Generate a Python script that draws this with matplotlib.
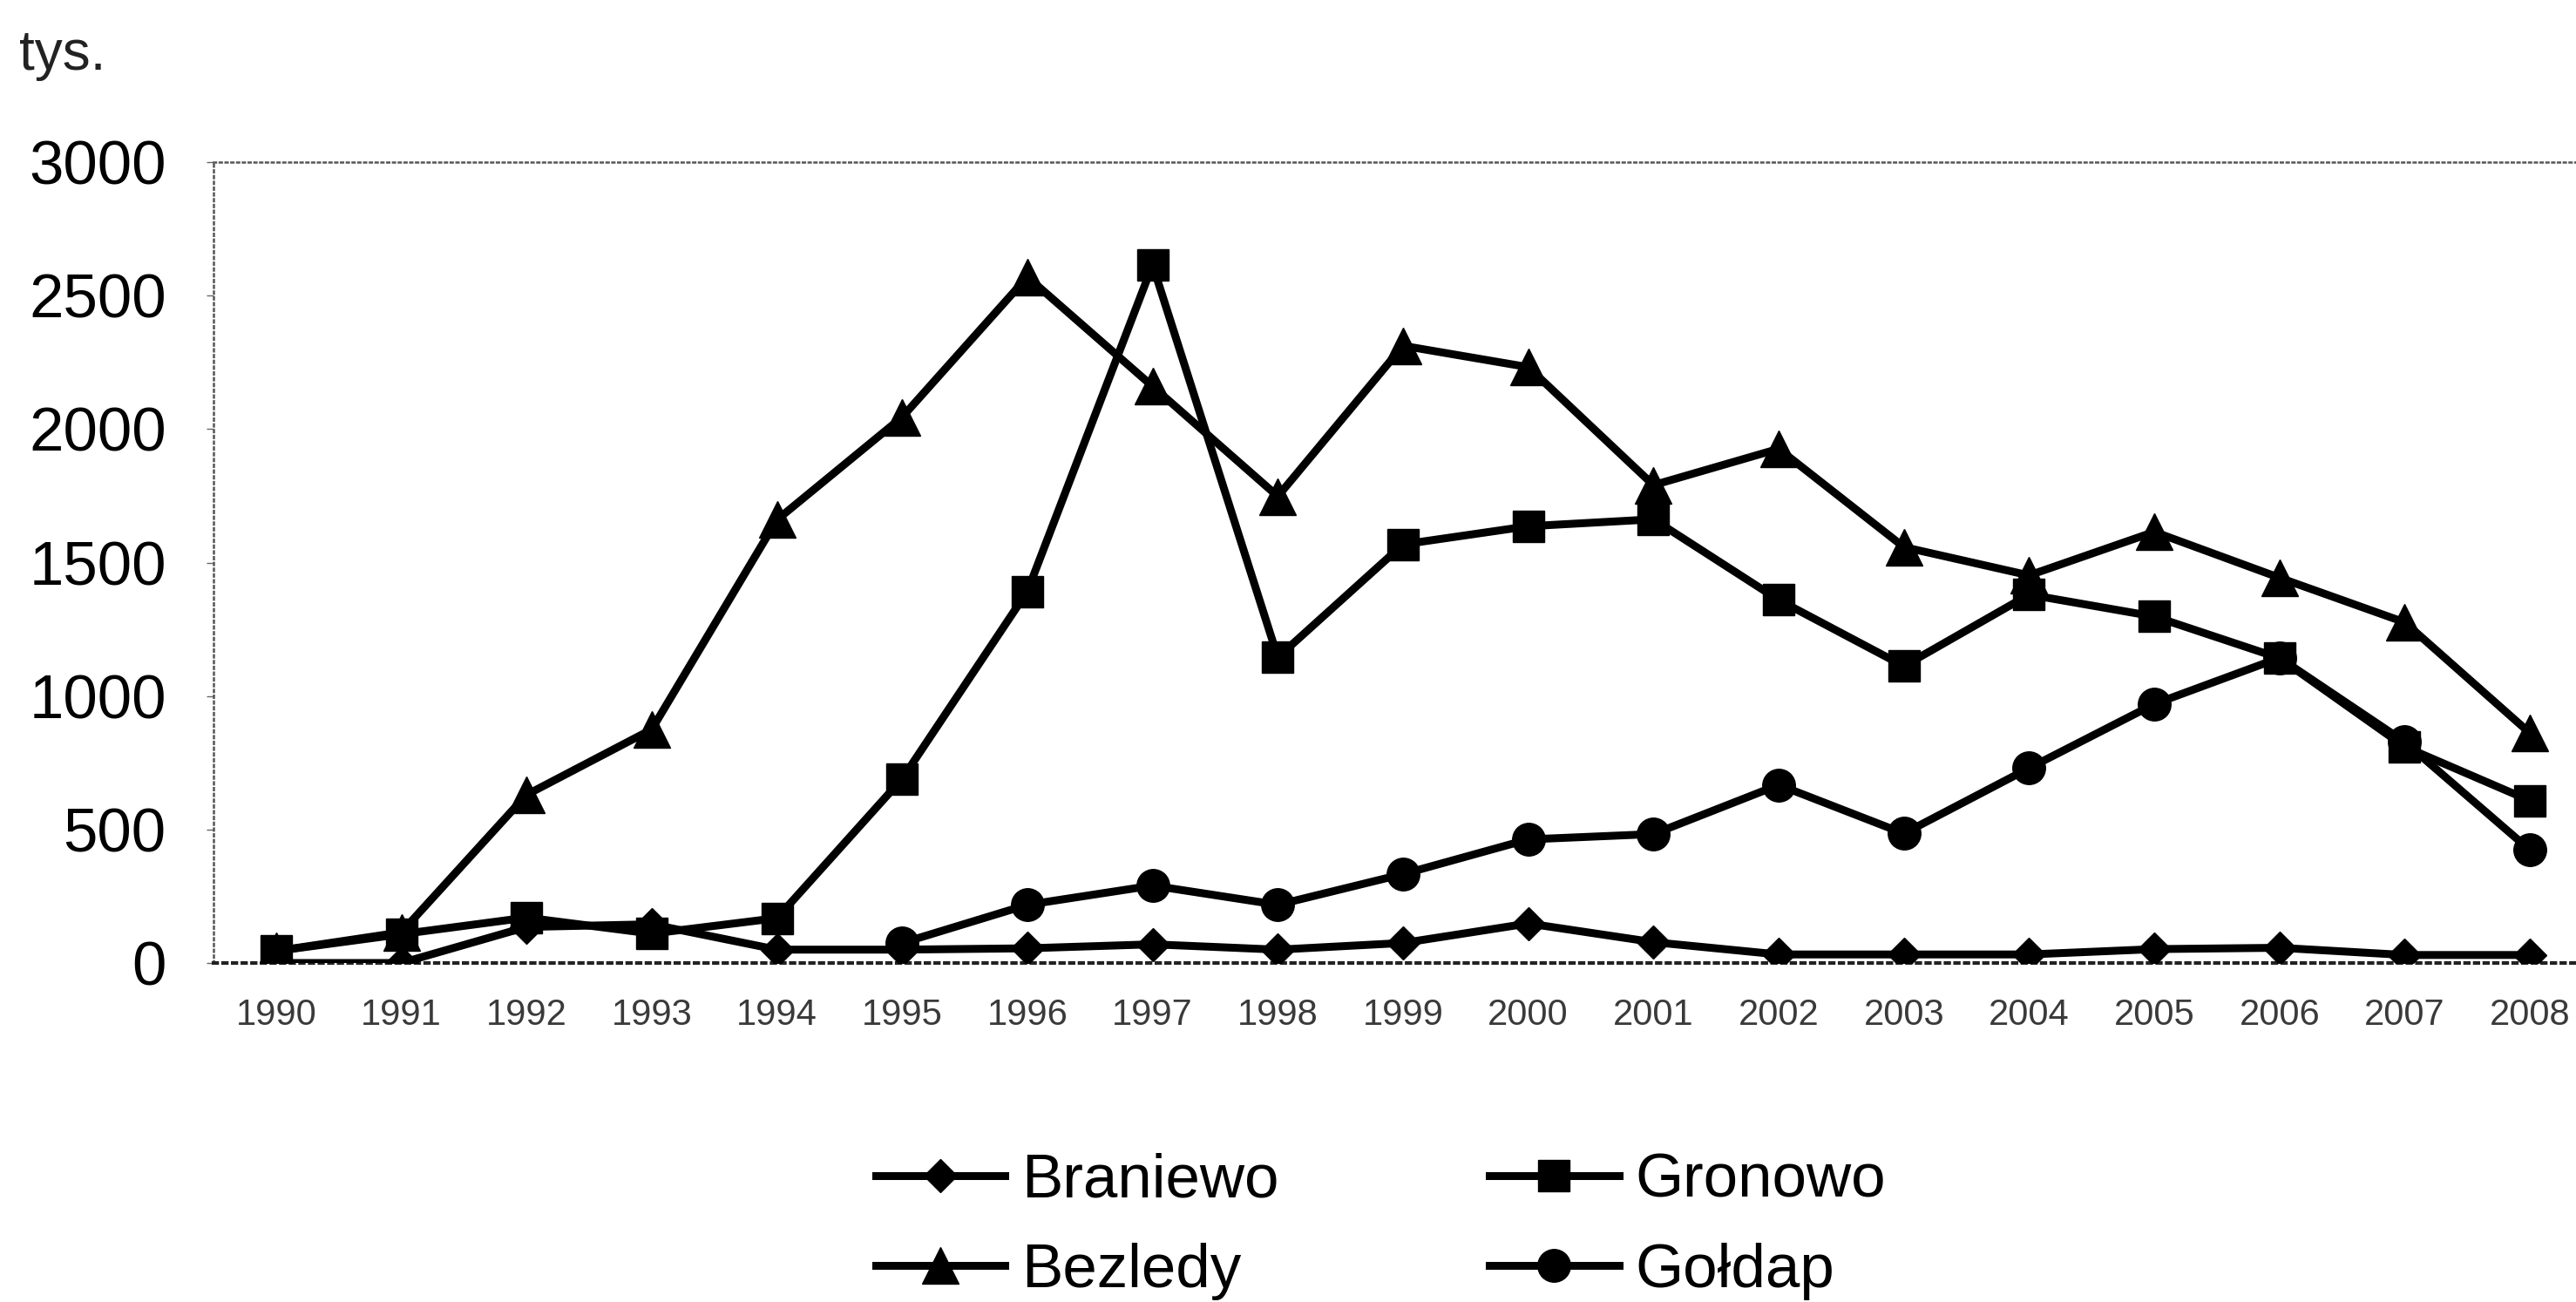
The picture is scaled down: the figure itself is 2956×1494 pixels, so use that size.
import matplotlib
matplotlib.use("Agg")
import matplotlib.pyplot as plt
import numpy as np

plt.rcParams['font.family'] = ['Liberation Sans', 'DejaVu Sans']

years = list(range(1990, 2009))
year_labels = [str(y) for y in years]

braniewo = [0, 0, 135, 145, 50, 50, 55, 70, 50, 75, 148, 78, 32, 32, 32, 52, 57, 30, 30]
gronowo = [45, 108, 170, 110, 168, 690, 1392, 2615, 1145, 1568, 1636, 1662, 1360, 1112, 1380, 1298, 1142, 810, 608]
bezledy = [45, 115, 630, 875, 1660, 2045, 2570, 2160, 1748, 2312, 2232, 1790, 1926, 1558, 1452, 1615, 1443, 1276, 861]
goldap = [np.nan, np.nan, np.nan, np.nan, np.nan, 75, 218, 290, 218, 333, 463, 483, 667, 485, 730, 970, 1143, 828, 423]

yticks = [0, 500, 1000, 1500, 2000, 2500, 3000]

W, H = 2956, 1494
fig = plt.figure(figsize=(W / 100, H / 100), dpi=100)
left_px, right_px, top_px, bot_px = 245, 2975, 186, 1105
ax = fig.add_axes([left_px / W, 1 - bot_px / H, (right_px - left_px) / W, (bot_px - top_px) / H])

lw = 6.5
l1, = ax.plot(years, braniewo, color='black', lw=lw, marker='D', ms=19, mfc='black', mec='black', label='Braniewo', zorder=3)
l3, = ax.plot(years, bezledy, color='black', lw=lw, marker='^', ms=30, mfc='black', mec='black', label='Bezledy', zorder=4)
l2, = ax.plot(years, gronowo, color='black', lw=lw, marker='s', ms=26, mfc='black', mec='black', label='Gronowo', zorder=5)
l4, = ax.plot(years, goldap, color='black', lw=lw, marker='o', ms=27, mfc='black', mec='black', label='Gołdap', zorder=6)

ax.set_xlim(1989.5, 2008.5)
ax.set_ylim(0, 3000)
ax.set_yticks(yticks)
ax.set_yticklabels([str(v) for v in yticks])
ax.set_xticks(years)
ax.set_xticklabels(year_labels)

ax.tick_params(axis='y', labelsize=51, length=6, width=1, color='#666666', pad=33, direction='out')
ax.tick_params(axis='x', labelsize=30, length=0, pad=29, labelcolor='#3a3a3a')

for s in ['left', 'top']:
    ax.spines[s].set_linestyle(':')
    ax.spines[s].set_color('#555555')
    ax.spines[s].set_linewidth(1.8)
ax.spines['bottom'].set_linestyle(':')
ax.spines['bottom'].set_color('#222222')
ax.spines['bottom'].set_linewidth(3)
ax.spines['right'].set_visible(False)

fig.text(22 / W, 1 - 80 / H, 'tys.', fontsize=46, ha='left', va='baseline', color='#222222')

fig.legend([l1, l3, l2, l4], ['Braniewo', 'Bezledy', 'Gronowo', 'Gołdap'],
           ncol=2, loc='center', bbox_to_anchor=(0.536, 0.058), frameon=False,
           fontsize=51, handlelength=2.1, handletextpad=0.27, columnspacing=3.4,
           labelspacing=0.53, numpoints=1)

fig.savefig('out.png', dpi=100)
